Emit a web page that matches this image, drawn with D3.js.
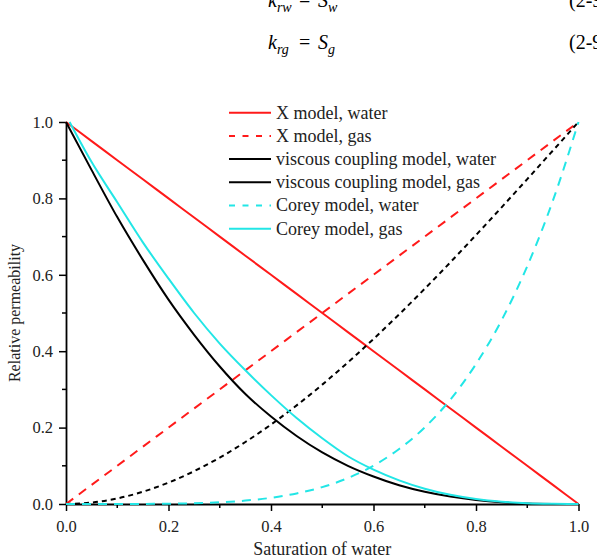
<!DOCTYPE html>
<html>
<head>
<meta charset="utf-8">
<script src="https://cdn.jsdelivr.net/npm/d3@7"></script>
<style>
  body { margin: 0; background: #fff; overflow: hidden; }
  svg { display: block; font-family: "Liberation Serif", "Times New Roman", serif; }
</style>
</head>
<body>
<svg id="vis" width="597" height="559"></svg>
<script>
// saturation of water, sampled every 0.05
const SATURATION = [0, 0.05, 0.1, 0.15, 0.2, 0.25, 0.3, 0.35, 0.4, 0.45, 0.5,
                    0.55, 0.6, 0.65, 0.7, 0.75, 0.8, 0.85, 0.9, 0.95, 1];
// the Corey gas curve starts a little right of zero
const COREY_GAS_SAT = [0.007, 0.05, 0.1, 0.15, 0.2, 0.25, 0.3, 0.35, 0.4, 0.45, 0.5,
                       0.55, 0.6, 0.65, 0.7, 0.75, 0.8, 0.85, 0.9, 0.95, 1];

const X_WATER = [1, 0.95, 0.9, 0.85, 0.8, 0.75, 0.7, 0.65, 0.6, 0.55, 0.5,
                 0.45, 0.4, 0.35, 0.3, 0.25, 0.2, 0.15, 0.1, 0.05, 0];
const X_GAS = [0, 0.05, 0.1, 0.15, 0.2, 0.25, 0.3, 0.35, 0.4, 0.45, 0.5,
               0.55, 0.6, 0.65, 0.7, 0.75, 0.8, 0.85, 0.9, 0.95, 1];
const VISCOUS_WATER = [1, 0.874, 0.751, 0.639, 0.535, 0.443, 0.36, 0.288, 0.229, 0.178, 0.135,
                       0.1, 0.072, 0.049, 0.032, 0.0195, 0.0104, 0.0044, 0.0013, 0.0002, 0];
const VISCOUS_GAS = [0, 0.0037, 0.0145, 0.0321, 0.056, 0.0859, 0.1215, 0.1623, 0.208, 0.2582, 0.3125,
                     0.3706, 0.432, 0.4964, 0.5635, 0.6328, 0.704, 0.7767, 0.8505, 0.9251, 1];
const COREY_WATER = [0, 0, 0, 0.0002, 0.0007, 0.0019, 0.0044, 0.0089, 0.0162, 0.0276, 0.0442,
                     0.0678, 0.1004, 0.1439, 0.2006, 0.2734, 0.3665, 0.4812, 0.6226, 0.794, 1];
const COREY_GAS = [1, 0.895, 0.79, 0.685, 0.59, 0.5, 0.42, 0.35, 0.285, 0.225, 0.172,
                   0.125, 0.09, 0.062, 0.04, 0.024, 0.013, 0.006, 0.002, 0.0005, 0];

const X_TICKS = [0, 0.2, 0.4, 0.6, 0.8, 1.0];
const Y_TICKS = [0, 0.2, 0.4, 0.6, 0.8, 1.0];
const MINOR_TICKS = [0.1, 0.3, 0.5, 0.7, 0.9];

const SERIES_NAMES = ["X model, water", "X model, gas", "viscous coupling model, water",
                      "viscous coupling model, gas", "Corey model, water", "Corey model, gas"];
const SERIES_VALUES = [X_WATER, X_GAS, VISCOUS_WATER, VISCOUS_GAS, COREY_WATER, COREY_GAS];
const SERIES_SAT = [SATURATION, SATURATION, SATURATION, SATURATION, SATURATION, COREY_GAS_SAT];

// styles: plot dash and legend dash (the legend shows viscous gas as solid)
const STYLES = [
    {color: "#ff1a1a", dash: null, legendDash: null},
    {color: "#ff1a1a", dash: "9,7", legendDash: "6,7.5"},
    {color: "#000000", dash: null, legendDash: null},
    {color: "#000000", dash: "5,4", legendDash: null},
    {color: "#22e6e6", dash: "9,7", legendDash: "6,7.5"},
    {color: "#22e6e6", dash: null, legendDash: null}
];

const MARGINS = {top: 122, right: 18.5, bottom: 55, left: 66};
const WIDTH = 597, HEIGHT = 559;

const svg = d3.select("#vis");

const x = d3.scaleLinear().domain([0, 1]).range([MARGINS.left, WIDTH - MARGINS.right]);
const y = d3.scaleLinear().domain([0, 1]).range([HEIGHT - MARGINS.bottom, MARGINS.top]);

// equations at top (cut by the page edge)
function equation(yb, sub1, sub2) {
    const t = svg.append("text").attr("y", yb).style("font-size", "20px");
    t.append("tspan").attr("x", 268).style("font-style", "italic").text("k");
    t.append("tspan").attr("dy", 5).style("font-size", "14px").style("font-style", "italic").text(sub1);
    t.append("tspan").attr("x", 299).attr("dy", -5).text("=");
    t.append("tspan").attr("x", 318).style("font-style", "italic").text("S");
    t.append("tspan").attr("dy", 5).style("font-size", "14px").style("font-style", "italic").text(sub2);
    svg.append("text").attr("x", 569).attr("y", yb).style("font-size", "20px").text("(2-9");
}
equation(7, "rw", "w");
equation(49, "rg", "g");

// axes
const xAxis = d3.axisBottom(x).tickValues(X_TICKS).tickFormat(d3.format(".1f"))
    .tickSize(7).tickSizeOuter(0).tickPadding(9);
const yAxis = d3.axisLeft(y).tickValues(Y_TICKS).tickFormat(d3.format(".1f"))
    .tickSize(7).tickSizeOuter(0).tickPadding(6);

const gx = svg.append("g").attr("transform", `translate(0,${y(0)})`).call(xAxis);
const gy = svg.append("g").attr("transform", `translate(${x(0)},0)`).call(yAxis);

[gx, gy].forEach(function(g){
    g.selectAll("text").style("font-size", "16.5px").style("font-family", "Liberation Serif").attr("fill", "#222");
    g.selectAll("line").attr("stroke-width", 1.5);
    g.select(".domain").attr("stroke-width", 1.8);
});

// minor ticks
svg.append("g").selectAll("line").data(MINOR_TICKS).enter().append("line")
    .attr("x1", d => x(d)).attr("x2", d => x(d))
    .attr("y1", y(0)).attr("y2", y(0) + 4)
    .attr("stroke", "#000").attr("stroke-width", 1.5);
svg.append("g").selectAll("line").data(MINOR_TICKS).enter().append("line")
    .attr("x1", x(0) - 4).attr("x2", x(0))
    .attr("y1", d => y(d)).attr("y2", d => y(d))
    .attr("stroke", "#000").attr("stroke-width", 1.5);

// axis titles
svg.append("text")
    .attr("x", (x(0) + x(1)) / 2).attr("y", 555)
    .style("text-anchor", "middle").style("font-size", "18px").attr("fill", "#222")
    .text("Saturation of water");
svg.append("text")
    .attr("transform", `translate(20,${(y(0) + y(1)) / 2}) rotate(-90)`)
    .style("text-anchor", "middle").style("font-size", "16px").attr("fill", "#222")
    .text("Relative permeability");

// curves
SERIES_VALUES.forEach(function(vals, i){
    const sat = SERIES_SAT[i];
    const line = d3.line()
        .x((d, j) => x(sat[j]))
        .y(d => y(d))
        .curve(d3.curveMonotoneX);
    svg.append("path")
        .datum(vals)
        .attr("d", line)
        .attr("fill", "none")
        .attr("stroke", STYLES[i].color)
        .attr("stroke-width", 2)
        .attr("stroke-dasharray", STYLES[i].dash);
});

// legend
const legend = svg.append("g");
SERIES_NAMES.forEach(function(name, i){
    const ly = 112.7 + i * 23.2;
    legend.append("line")
        .attr("x1", 229).attr("x2", 271)
        .attr("y1", ly).attr("y2", ly)
        .attr("stroke", STYLES[i].color)
        .attr("stroke-width", 2)
        .attr("stroke-dasharray", STYLES[i].legendDash);
    legend.append("text")
        .attr("x", 276).attr("y", ly).attr("dy", "0.33em")
        .style("font-size", "18px").attr("fill", "#222")
        .text(name);
});
</script>
</body>
</html>
